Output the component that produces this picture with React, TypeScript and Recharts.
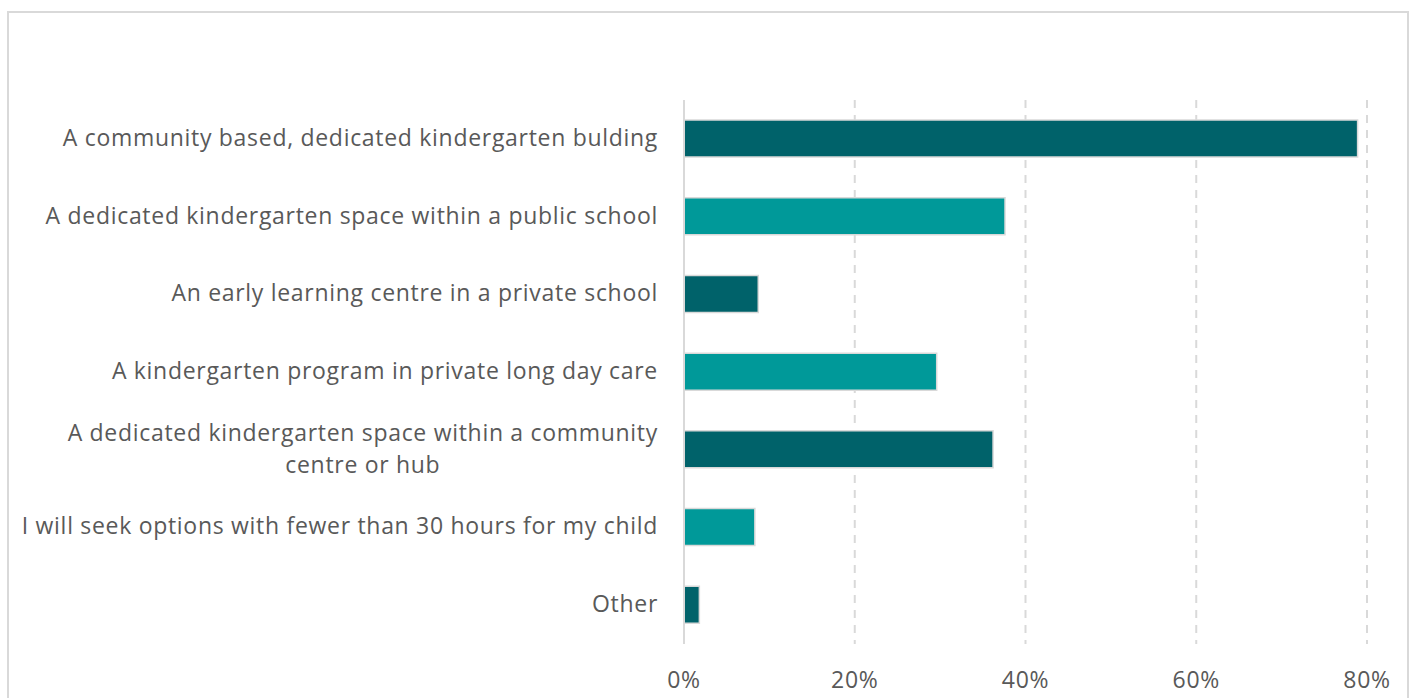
import React from "react";
import { BarChart, Bar, XAxis, YAxis, CartesianGrid, Cell } from "recharts";

const categories = [
  "A community based, dedicated kindergarten bulding",
  "A dedicated kindergarten space within a public school",
  "An early learning centre in a private school",
  "A kindergarten program in private long day care",
  "A dedicated kindergarten space within a community\ncentre or hub",
  "I will seek options with fewer than 30 hours for my child",
  "Other",
];
const values = [0.789, 0.376, 0.087, 0.296, 0.362, 0.083, 0.018];
const xTicks = [0, 0.2, 0.4, 0.6, 0.8];
const barColors = ["#00626A", "#009999"];

const data = categories.map((name, i) => ({ name, value: values[i] }));

const FONT = "'Open Sans', 'Noto Sans', sans-serif";
const FONT_SIZE = 23;
const LETTER = 0.7;
const TEXT = "#595959";

function measure(s: string): number {
  try {
    const c = document.createElement("canvas").getContext("2d");
    if (c) {
      c.font = `${FONT_SIZE}px 'Open Sans'`;
      return c.measureText(s).width + LETTER * s.length;
    }
  } catch (e) {}
  return s.length * FONT_SIZE * 0.55;
}

const YTick = (props: any) => {
  const { x, y, payload } = props;
  const lines = String(payload.value).split("\n");
  const common = {
    fill: TEXT,
    fontSize: FONT_SIZE,
    fontFamily: FONT,
    letterSpacing: LETTER,
  };
  if (lines.length === 1) {
    return (
      <text x={x} y={y + 7} textAnchor="end" {...common}>
        {lines[0]}
      </text>
    );
  }
  const w1 = measure(lines[0]);
  return (
    <g>
      <text x={x} y={y - 9} textAnchor="end" {...common}>
        {lines[0]}
      </text>
      <text x={x - w1 / 2} y={y + 23} textAnchor="middle" {...common}>
        {lines[1]}
      </text>
    </g>
  );
};

const XTick = (props: any) => {
  const { x, y, payload } = props;
  return (
    <text
      x={x}
      y={y + 44}
      textAnchor="middle"
      fill={TEXT}
      fontSize={FONT_SIZE}
      fontFamily={FONT}
      letterSpacing={LETTER}
    >
      {`${Math.round(payload.value * 100)}%`}
    </text>
  );
};

export default function App() {
  return (
    <div
      style={{
        position: "absolute",
        left: 0,
        top: 0,
        width: 1415,
        height: 698,
        background: "#ffffff",
        overflow: "hidden",
      }}
    >
      <div
        style={{
          position: "absolute",
          left: 7,
          top: 11,
          width: 1402,
          height: 720,
          border: "2px solid #d9d9d9",
          boxSizing: "border-box",
        }}
      />
      <div style={{ position: "absolute", left: 0, top: 0 }}>
        <BarChart
          width={1415}
          height={698}
          data={data}
          layout="vertical"
          margin={{ top: 100, right: 48, left: 0, bottom: 0 }}
          barCategoryGap={0}
        >
          <CartesianGrid
            horizontal={false}
            vertical={true}
            stroke="#d9d9d9"
            strokeWidth={2}
            strokeDasharray="8 7"
          />
          <XAxis
            type="number"
            domain={[0, 0.8]}
            ticks={xTicks}
            axisLine={false}
            tickLine={false}
            tickSize={0}
            tickMargin={0}
            height={54}
            tick={<XTick />}
            interval={0}
          />
          <YAxis
            type="category"
            dataKey="name"
            width={684}
            axisLine={{ stroke: "#d9d9d9", strokeWidth: 2 }}
            tickLine={false}
            tickSize={0}
            tickMargin={26}
            tick={<YTick />}
            interval={0}
          />
          <Bar dataKey="value" barSize={37} stroke="#d9d9d9" strokeWidth={1.5} isAnimationActive={false}>
            {data.map((_, i) => (
              <Cell key={i} fill={barColors[i % 2]} />
            ))}
          </Bar>
        </BarChart>
      </div>
    </div>
  );
}
